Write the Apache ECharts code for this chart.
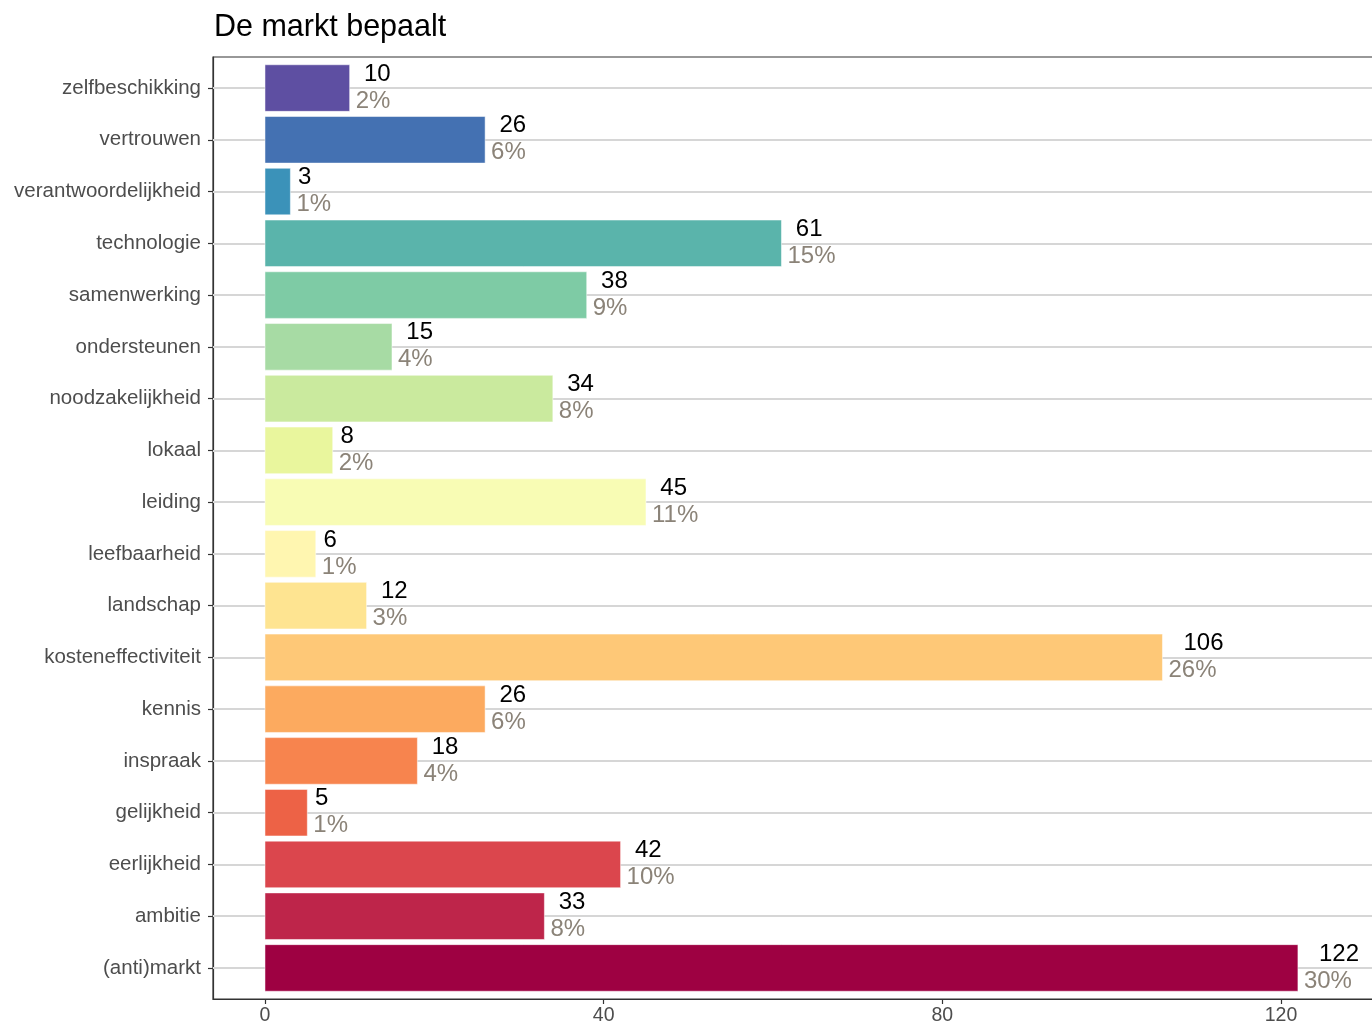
<!DOCTYPE html>
<html>
<head>
<meta charset="utf-8">
<script src="https://cdn.jsdelivr.net/npm/echarts@6/dist/echarts.min.js"></script>
<style>
  html, body { margin: 0; padding: 0; background: #ffffff; }
  #chart { width: 1372px; height: 1027px; }
</style>
</head>
<body>
<div id="chart"></div>
<script>
// ---- data (top to bottom as shown) ----
const categories = ['zelfbeschikking', 'vertrouwen', 'verantwoordelijkheid', 'technologie', 'samenwerking',
  'ondersteunen', 'noodzakelijkheid', 'lokaal', 'leiding', 'leefbaarheid', 'landschap',
  'kosteneffectiviteit', 'kennis', 'inspraak', 'gelijkheid', 'eerlijkheid', 'ambitie', '(anti)markt'];
const counts = [10, 26, 3, 61, 38, 15, 34, 8, 45, 6, 12, 106, 26, 18, 5, 42, 33, 122];
const percents = [2, 6, 1, 15, 9, 4, 8, 2, 11, 1, 3, 26, 6, 4, 1, 10, 8, 30];
const xTicks = [0, 40, 80, 120];
const titleText = 'De markt bepaalt';

// ---- styles ----
const barColors = ['#5E4FA2', '#4471B2', '#3B92B9', '#5AB4AB', '#7ECBA5', '#A7DBA4', '#CAEA9E', '#E9F69D',
  '#F8FCB4', '#FFF6B0', '#FEE491', '#FEC877', '#FCAA5F', '#F7844E', '#ED6246', '#DB464D', '#BE254A', '#9E0142'];
const FONT = "'Liberation Sans', Arial, Helvetica, sans-serif";
const labelSize = 24;
const GRID_W = 1200;
const PX_PER_UNIT = 8.4667;
const X_MIN = -6.14;

const measureCtx = document.createElement('canvas').getContext('2d');
measureCtx.font = labelSize + 'px ' + FONT;
function textWidth(s) { return measureCtx.measureText(s).width; }

const seriesData = categories.map((c, i) => [counts[i], i, percents[i]]);
const yIdx = categories.map((c, i) => i);

const chart = echarts.init(document.getElementById('chart'), null, { renderer: 'canvas' });

const option = {
  backgroundColor: '#ffffff',
  animation: false,
  title: {
    text: titleText,
    left: 209,
    top: 7,
    textStyle: { fontFamily: FONT, fontSize: 30.5, fontWeight: 'normal', color: '#000000' }
  },
  grid: {
    left: 213, top: 57, bottom: 28, width: GRID_W,
    outerBoundsMode: 'none',
    containLabel: false,
    show: true, borderColor: '#333333', borderWidth: 1.2, backgroundColor: '#ffffff'
  },
  xAxis: {
    type: 'value',
    min: X_MIN,
    max: X_MIN + GRID_W / PX_PER_UNIT,
    axisLine: { show: true, onZero: false, lineStyle: { color: '#333333', width: 1.2 } },
    axisTick: { show: true, length: 5, customValues: xTicks, lineStyle: { color: '#333333', width: 1.2 } },
    axisLabel: { customValues: xTicks, margin: 7, color: '#4D4D4D', fontFamily: FONT, fontSize: 19.5 },
    splitLine: { show: false },
    minorTick: { show: false },
    minorSplitLine: { show: false }
  },
  yAxis: {
    type: 'value',
    inverse: true,
    min: -0.6,
    max: 17.6,
    axisLine: { show: true, onZero: false, lineStyle: { color: '#333333', width: 1.2 } },
    axisTick: { show: true, length: 5, customValues: yIdx, lineStyle: { color: '#333333', width: 1.2 } },
    axisLabel: {
      customValues: yIdx, margin: 12, color: '#4D4D4D', fontFamily: FONT, fontSize: 20.5,
      formatter: v => categories[Math.round(v)]
    },
    splitLine: { show: false },
    minorTick: { show: false },
    minorSplitLine: { show: false }
  },
  series: [
    {
      type: 'line',
      data: [],
      z: 1,
      silent: true,
      markLine: {
        z: 1,
        silent: true,
        symbol: ['none', 'none'],
        label: { show: false },
        lineStyle: { type: 'solid', color: '#D6D6D6', width: 2 },
        data: yIdx.map(i => ({ yAxis: i }))
      }
    },
    {
      type: 'custom',
      z: 10,
      data: seriesData,
      encode: { x: 0, y: 1 },
      renderItem: function (params, api) {
        const v = api.value(0), i = api.value(1), p = api.value(2);
        const start = api.coord([0, i]);
        const end = api.coord([v, i]);
        const h = api.size([0, 0.9])[1];
        const numStr = String(v);
        const w = textWidth(numStr);
        return {
          type: 'group',
          children: [
            {
              type: 'rect',
              shape: { x: start[0], y: start[1] - h / 2, width: end[0] - start[0], height: h },
              style: { fill: barColors[i], stroke: '#ffffff', lineWidth: 0.5 }
            },
            {
              type: 'text',
              x: end[0] + 1 + w / 2,
              y: end[1] - 14,
              style: { text: numStr, fill: '#000000', fontFamily: FONT, fontSize: labelSize, align: 'left', verticalAlign: 'middle' }
            },
            {
              type: 'text',
              x: end[0] + 6,
              y: end[1] + 13,
              style: { text: p + '%', fill: '#8B8378', fontFamily: FONT, fontSize: labelSize, align: 'left', verticalAlign: 'middle' }
            }
          ]
        };
      }
    }
  ]
};

chart.setOption(option);
</script>
</body>
</html>
